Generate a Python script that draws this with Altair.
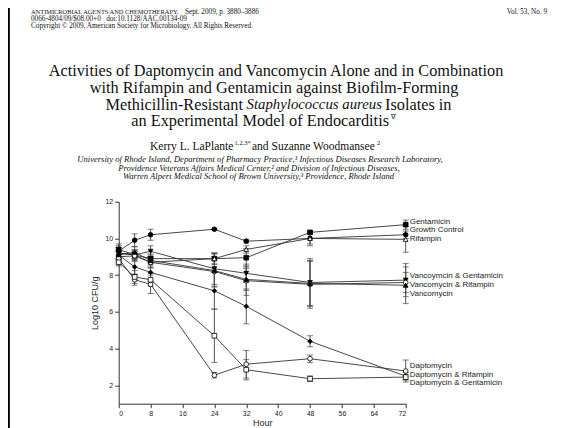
import altair as alt
import pandas as pd

# ---------------- data ----------------
hours = [0, 4, 8, 24, 32, 48, 72]
x_ticks = [0, 8, 16, 24, 32, 40, 48, 56, 64, 72]
y_ticks = [2, 4, 6, 8, 10, 12]

series = ["Growth Control", "Gentamicin", "Rifampin",
          "Vancoymcin & Gentamicin", "Vancomycin & Rifampin", "Vancomycin",
          "Daptomycin", "Daptomycin & Rifampin", "Daptomycin & Gentamicin"]

growth_control = [9.3, 9.9, 10.2, 10.5, 9.85, 10.0, 10.2]
gentamicin = [9.4, 9.1, 8.9, 8.9, 8.95, 10.33, 10.75]
rifampin = [9.2, 9.1, 8.7, 8.9, 9.4, 10.0, 9.95]
vanc_gent = [9.2, 9.1, 9.3, 8.35, 8.1, 7.6, 7.73]
vanc_rif = [9.0, 9.05, 8.7, 8.2, 7.7, 7.5, 7.6]
vancomycin = [9.1, 9.25, 8.8, 8.25, 7.77, 7.55, 7.45]
daptomycin = [8.9, 7.75, 7.5, 2.55, 3.15, 3.45, 2.78]
dapt_rif = [9.1, 8.45, 8.15, 7.15, 6.3, 4.4, 2.5]
dapt_gent = [8.7, 7.9, 7.75, 4.7, 2.85, 2.36, 2.45]

err_growth_control = [0.3, 0.35, 0.3, 0.05, 0.1, 0.3, 0.2]
err_gentamicin = [0.3, 0.2, 0.25, 0.3, 0.5, 0.1, 0.25]
err_rifampin = [0.3, 0.2, 0.3, 0.3, 0.2, 0.4, 0.7]
err_vanc_gent = [0.3, 0.3, 0.3, 0.85, 0.5, 1.3, 0.9]
err_vanc_rif = [0.3, 0.3, 0.3, 0.8, 0.8, 1.3, 0.55]
err_vancomycin = [0.25, 0.3, 0.3, 0.9, 0.6, 1.2, 1.0]
err_daptomycin = [0.3, 0.3, 0.5, 0.15, 0.75, 0.2, 0.6]
err_dapt_rif = [0.3, 0.4, 0.5, 1.0, 0.95, 0.3, 0.2]
err_dapt_gent = [0.2, 0.35, 0.35, 1.45, 0.55, 0.15, 0.15]

# end-label placement (log10 CFU/g units) for the right-hand labels
label_y = [10.44, 10.87, 9.95, 7.96, 7.49, 7.0, 3.05, 2.56, 2.12]

shapes = ["circle", "square", "triangle-up", "triangle-down", "circle",
          "triangle-up", "circle", "diamond", "square"]
fills = ["#000000", "#000000", "#ffffff", "#000000", "#ffffff",
         "#000000", "#ffffff", "#000000", "#ffffff"]

values = [growth_control, gentamicin, rifampin, vanc_gent, vanc_rif,
          vancomycin, daptomycin, dapt_rif, dapt_gent]
errors = [err_growth_control, err_gentamicin, err_rifampin, err_vanc_gent,
          err_vanc_rif, err_vancomycin, err_daptomycin, err_dapt_rif,
          err_dapt_gent]

rows = []
for s, vals, errs in zip(series, values, errors):
    for h, v, e in zip(hours, vals, errs):
        rows.append({"series": s, "hour": h, "cfu": v, "lo": v - e, "hi": v + e})
df = pd.DataFrame(rows)

labels_df = pd.DataFrame({"series": series, "hour": [hours[-1]] * len(series),
                          "y": label_y})

# ---------------- layout ----------------
OX, OY = 118.7, 201.7  # page position of plot origin
W, H = 287, 202
SVG_W, SVG_H = 545, 420


def px(x):
    return x - OX


def py(y):
    return y - OY


xscale = alt.Scale(domain=[0, 72], nice=False)
yscale = alt.Scale(domain=[1, 12], nice=False)
shape_scale = alt.Scale(domain=series, range=shapes)
fill_scale = alt.Scale(domain=series, range=fills)

x_axis = alt.Axis(title="Hour", values=x_ticks, format="d", labelOverlap=False)
y_axis = alt.Axis(title="Log10 CFU/g", values=y_ticks, labelOverlap=False)

base = alt.Chart(df)

rules = base.mark_rule(color="#555555", strokeWidth=1).encode(
    x=alt.X("hour:Q", scale=xscale, axis=x_axis),
    y=alt.Y("lo:Q", scale=yscale, axis=y_axis), y2="hi:Q")
caps_lo = base.mark_tick(orient="horizontal", size=6, thickness=1,
                         color="#444444").encode(
    x=alt.X("hour:Q", scale=xscale, axis=x_axis),
    y=alt.Y("lo:Q", scale=yscale, axis=y_axis))
caps_hi = base.mark_tick(orient="horizontal", size=6, thickness=1,
                         color="#444444").encode(
    x=alt.X("hour:Q", scale=xscale, axis=x_axis),
    y=alt.Y("hi:Q", scale=yscale, axis=y_axis))
lines = base.mark_line(color="#333333", strokeWidth=0.9).encode(
    x=alt.X("hour:Q", scale=xscale, axis=x_axis),
    y=alt.Y("cfu:Q", scale=yscale, axis=y_axis),
    detail="series:N", order="hour:Q")
points = base.mark_point(stroke="#000000", strokeWidth=0.8, opacity=1,
                         size=22).encode(
    x=alt.X("hour:Q", scale=xscale, axis=x_axis),
    y=alt.Y("cfu:Q", scale=yscale, axis=y_axis),
    shape=alt.Shape("series:N", scale=shape_scale, legend=None),
    fill=alt.Fill("series:N", scale=fill_scale, legend=None))
end_labels = alt.Chart(labels_df).mark_text(
    align="left", baseline="middle", dx=4, fontSize=8,
    font="Liberation Sans", color="#222222").encode(
    x=alt.X("hour:Q", scale=xscale, axis=x_axis),
    y=alt.Y("y:Q", scale=yscale, axis=y_axis),
    text="series:N")


def txt(text, x, y, size, align="left", style="normal", font="Liberation Serif"):
    return alt.Chart(pd.DataFrame({"t": [text]})).mark_text(
        align=align, baseline="middle", fontSize=size, font=font,
        fontStyle=style, color="#111111").encode(
        x=alt.value(px(x)), y=alt.value(py(y)), text="t:N")


NB = "\u00a0"
TS = 16.3
header = [
    txt("ANTIMICROBIAL AGENTS AND CHEMOTHERAPY,", 31, 12.2, 6.4),
    txt("Sept. 2009, p. 3880–3886", 185, 12, 7.2),
    txt("Vol. 53, No. 9", 547, 12, 7.2, align="right"),
    txt("0066-4804/09/$08.00+0" + NB * 3 + "doi:10.1128/AAC.00134-09", 31, 19.2, 7.2),
    txt("Copyright © 2009, American Society for Microbiology. All Rights Reserved.",
        31, 26.4, 7.2),
    txt("Activities of Daptomycin and Vancomycin Alone and in Combination",
        276, 71.3, TS, align="center"),
    txt("with Rifampin and Gentamicin against Biofilm-Forming",
        274, 87.9, TS, align="center"),
    txt("Methicillin-Resistant", 243, 104.5, TS, align="right"),
    txt("Staphylococcus aureus", 246.5, 104.5, 14.8, style="italic"),
    txt("Isolates in", 385, 104.5, TS),
    txt("an Experimental Model of Endocarditis", 389, 121.1, TS, align="right"),
    txt("∇", 391, 117, 6.5),
    txt("Kerry L. LaPlante", 150, 146.5, 11.5),
    txt("1,2,3*", 234.5, 142.5, 6.5),
    txt("and Suzanne Woodmansee", 252, 146.5, 11.5),
    txt("2", 377, 142.5, 6.5),
    txt("University of Rhode Island, Department of Pharmacy Practice,¹ "
        "Infectious Diseases Research Laboratory,", 260, 159, 8.6,
        align="center", style="italic"),
    txt("Providence Veterans Affairs Medical Center,² and Division of "
        "Infectious Diseases,", 259, 167.7, 8.6, align="center", style="italic"),
    txt("Warren Alpert Medical School of Brown University,³ Providence, "
        "Rhode Island", 258.5, 176.4, 8.6, align="center", style="italic"),
]

border = alt.Chart(pd.DataFrame({"a": [0]})).mark_rule(
    color="#000000", strokeWidth=2.5).encode(
    x=alt.value(px(8.6)), y=alt.value(py(0)), y2=alt.value(py(440)))

chart = alt.layer(
    border, rules, caps_lo, caps_hi, lines, points, end_labels, *header
).properties(
    width=W, height=H,
    autosize=alt.AutoSizeParams(type="none"),
    padding={"left": OX - 8, "top": OY - 8, "right": SVG_W - (OX - 8) - W,
             "bottom": SVG_H - (OY - 8) - H},
).configure_view(stroke=None).configure_axis(
    grid=False, domainColor="#333333", tickColor="#333333",
    labelColor="#222222", titleColor="#222222", labelFont="Liberation Sans",
    titleFont="Liberation Sans", labelFontSize=7, titleFontSize=9,
    titleFontWeight="normal", tickSize=4, labelPadding=2, domainWidth=1,
    tickWidth=1, labelOverlap=False,
).configure_axisY(titlePadding=5).configure_axisX(titlePadding=2)

chart.save("out.html", embed_options={"renderer": "svg", "actions": False})
